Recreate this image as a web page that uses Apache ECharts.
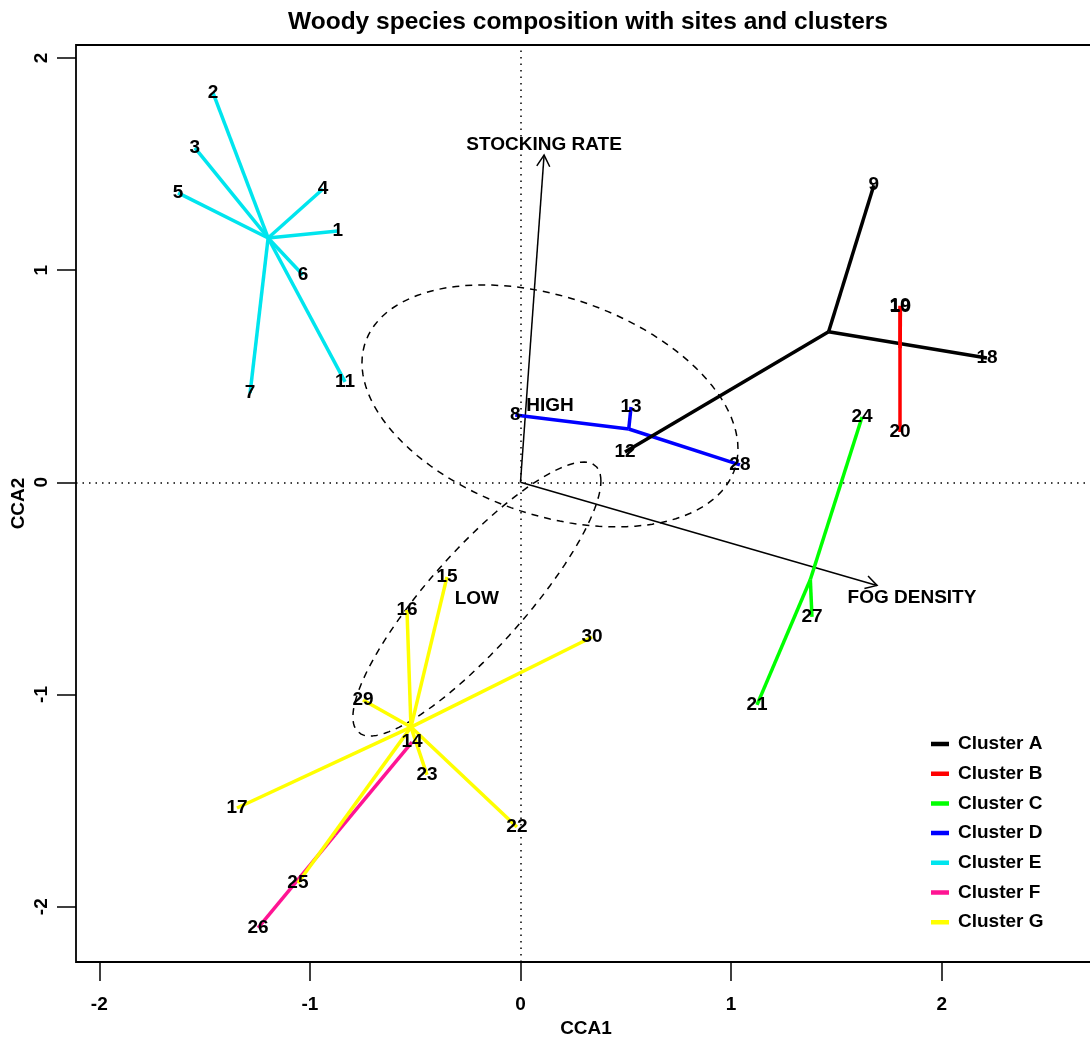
<!DOCTYPE html>
<html>
<head>
<meta charset="utf-8">
<script src="https://cdn.jsdelivr.net/npm/echarts@6/dist/echarts.min.js"></script>
<style>
  html, body { margin: 0; padding: 0; background: #fff; }
  #chart { width: 1090px; height: 1039px; }
</style>
</head>
<body>
<div id="chart"></div>
<script>
// site scores (CCA1, CCA2) and cluster of each site
var siteIds = [1, 2, 3, 4, 5, 6, 7, 8, 9, 10, 11, 12, 13, 14, 15, 16, 17, 18, 19, 20, 21, 22, 23, 24, 25, 26, 27, 28, 29, 30];
var siteX = [-0.867, -1.460, -1.546, -0.938, -1.626, -1.033, -1.284, -0.025, 1.678, 1.802,
  -0.833, 0.496, 0.525, -0.515, -0.349, -0.539, -1.346, 2.215, 1.804, 1.802,
  1.123, -0.017, -0.444, 1.622, -1.057, -1.246, 1.384, 1.042, -0.748, 0.340];
var siteY = [1.184, 1.835, 1.576, 1.382, 1.364, 0.977, 0.421, 0.317, 1.400, 0.832,
  0.473, 0.143, 0.355, -1.224, -0.446, -0.602, -1.535, 0.586, 0.828, 0.237,
  -1.049, -1.624, -1.379, 0.308, -1.888, -2.100, -0.634, 0.082, -1.026, -0.729];
var siteCluster = ['E', 'E', 'E', 'E', 'E', 'E', 'E', 'D', 'A', 'B',
  'E', 'A', 'D', 'F', 'G', 'G', 'G', 'A', 'B', 'B',
  'C', 'G', 'G', 'C', 'G', 'F', 'C', 'D', 'G', 'G'];

var clusterKeys = ['A', 'B', 'C', 'D', 'E', 'F', 'G'];
var clusterNames = ['Cluster A', 'Cluster B', 'Cluster C', 'Cluster D', 'Cluster E', 'Cluster F', 'Cluster G'];
var clusterColors = ['#000000', '#ff0000', '#00ff00', '#0000ff', '#00e5ee', '#ff1493', '#ffff00'];
// drawing order of the spiders (later = on top)
var drawOrder = ['F', 'G', 'C', 'D', 'E', 'A', 'B'];

// environmental vectors
var envNames = ['STOCKING RATE', 'FOG DENSITY'];
var envX = [0.112, 1.693];
var envY = [1.542, -0.486];
var envLabelX = [0.112, 1.859];
var envLabelY = [1.590, -0.545];

// factor centroids and their dispersion ellipses (covariance in CCA units)
var factorNames = ['HIGH', 'LOW'];
var factorX = [0.140, -0.207];
var factorY = [0.360, -0.550];
var ellSxx = [0.797, 0.3467];
var ellSxy = [-0.1809, 0.3274];
var ellSyy = [0.3251, 0.4168];

var tickValues = [-2, -1, 0, 1, 2];

var FONT = '"Liberation Sans", Arial, Helvetica, sans-serif';

function ellipsePoints(i) {
  var a = Math.sqrt(ellSxx[i]);
  var b = ellSxy[i] / a;
  var c = Math.sqrt(ellSyy[i] - b * b);
  var pts = [];
  for (var k = 0; k <= 120; k++) {
    var t = k / 120 * 2 * Math.PI;
    var u = Math.cos(t), v = Math.sin(t);
    pts.push([factorX[i] + a * u, factorY[i] + b * u + c * v]);
  }
  return pts;
}

var series = [];

// ellipses
factorNames.forEach(function (f, i) {
  series.push({
    name: 'ellipse ' + f,
    type: 'line',
    data: ellipsePoints(i),
    showSymbol: false,
    smooth: false,
    silent: true,
    lineStyle: { color: '#000', width: 1.5, type: [7, 6] },
    z: 2,
    markLine: i === 0 ? {
      silent: true,
      symbol: 'none',
      label: { show: false },
      lineStyle: { color: '#000', width: 1.5, type: [1.5, 5] },
      data: [{ xAxis: 0 }, { yAxis: 0 }]
    } : undefined
  });
});

// env arrows
series.push({
  name: 'env',
  type: 'custom',
  silent: true,
  z: 3,
  renderItem: function (params, api) {
    var p0 = api.coord([0, 0]);
    var p1 = api.coord([api.value(0), api.value(1)]);
    var ang = Math.atan2(p1[1] - p0[1], p1[0] - p0[0]);
    var L = 13, a = Math.PI / 6;
    var h1 = [p1[0] - L * Math.cos(ang - a), p1[1] - L * Math.sin(ang - a)];
    var h2 = [p1[0] - L * Math.cos(ang + a), p1[1] - L * Math.sin(ang + a)];
    return {
      type: 'group',
      children: [
        { type: 'line', shape: { x1: p0[0], y1: p0[1], x2: p1[0], y2: p1[1] }, style: { stroke: '#000', lineWidth: 1.5 } },
        { type: 'polyline', shape: { points: [h1, p1, h2] }, style: { stroke: '#000', fill: null, lineWidth: 1.5 } }
      ]
    };
  },
  data: envX.map(function (x, i) { return [x, envY[i]]; })
});

// spiders
drawOrder.forEach(function (key) {
  var ci = clusterKeys.indexOf(key);
  var members = [];
  siteIds.forEach(function (id, i) { if (siteCluster[i] === key) members.push(i); });
  var cx = 0, cy = 0;
  members.forEach(function (i) { cx += siteX[i]; cy += siteY[i]; });
  cx /= members.length; cy /= members.length;
  series.push({
    name: clusterNames[ci],
    type: 'lines',
    coordinateSystem: 'cartesian2d',
    color: clusterColors[ci],
    silent: true,
    z: 4,
    lineStyle: { color: clusterColors[ci], width: 3.5, opacity: 1, curveness: 0 },
    data: members.map(function (i) { return { coords: [[cx, cy], [siteX[i], siteY[i]]] }; })
  });
});

var textLabel = {
  show: true,
  position: 'inside',
  color: '#000',
  fontFamily: FONT,
  fontWeight: 'bold',
  fontSize: 19,
  textBorderWidth: 0
};

// site labels
series.push({
  name: 'sites',
  type: 'scatter',
  silent: true,
  symbolSize: 0,
  itemStyle: { color: '#000', opacity: 1 },
  z: 6,
  label: Object.assign({}, textLabel, { formatter: function (p) { return p.value[2]; } }),
  data: siteIds.map(function (id, i) { return [siteX[i], siteY[i], String(id)]; })
});

// env + factor labels
series.push({
  name: 'labels',
  type: 'scatter',
  silent: true,
  symbolSize: 0,
  itemStyle: { color: '#000', opacity: 1 },
  z: 6,
  label: Object.assign({}, textLabel, { formatter: function (p) { return p.value[2]; } }),
  data: envNames.map(function (n, i) { return [envLabelX[i], envLabelY[i], n]; })
    .concat(factorNames.map(function (n, i) { return [factorX[i], factorY[i], n]; }))
});

var axisFont = { fontFamily: FONT, fontWeight: 'bold', fontSize: 19, color: '#000' };

var option = {
  animation: false,
  backgroundColor: '#fff',
  title: {
    text: 'Woody species composition with sites and clusters',
    left: 583,
    top: 5,
    textAlign: 'center',
    textStyle: { fontFamily: FONT, fontWeight: 'bold', fontSize: 24.5, color: '#000' }
  },
  legend: {
    orient: 'vertical',
    left: 931,
    top: 734,
    padding: 0,
    itemWidth: 16,
    itemHeight: 2.5,
    itemGap: 9.7,
    icon: 'rect',
    selectedMode: false,
    textStyle: { fontFamily: FONT, fontWeight: 'bold', fontSize: 19, color: '#000', lineHeight: 20, padding: [0, 0, 0, 5] },
    data: clusterNames.map(function (n, i) { return { name: n, itemStyle: { color: clusterColors[i] } }; })
  },
  grid: {
    left: 76,
    top: 45,
    right: -6,
    bottom: 77,
    outerBoundsMode: 'none',
    containLabel: false,
    show: true,
    borderColor: '#000',
    borderWidth: 1.8,
    backgroundColor: 'transparent'
  },
  xAxis: {
    type: 'value',
    min: -2.1106,
    max: 2.7327,
    name: 'CCA1',
    nameLocation: 'middle',
    nameGap: 57,
    nameMoveOverlap: false,
    nameTextStyle: axisFont,
    axisLine: { show: false, onZero: false },
    splitLine: { show: false },
    axisTick: { show: true, inside: false, length: 19, customValues: tickValues, lineStyle: { color: '#000', width: 1.5 } },
    axisLabel: Object.assign({ customValues: tickValues, margin: 33 }, axisFont)
  },
  yAxis: {
    type: 'value',
    min: -2.2606,
    max: 2.0608,
    name: 'CCA2',
    nameLocation: 'middle',
    nameRotate: 90,
    nameGap: 48,
    nameMoveOverlap: false,
    nameTextStyle: axisFont,
    axisLine: { show: false, onZero: false },
    splitLine: { show: false },
    axisTick: { show: true, inside: false, length: 19, customValues: tickValues, lineStyle: { color: '#000', width: 1.5 } },
    axisLabel: Object.assign({ customValues: tickValues, rotate: 90, margin: 25 }, axisFont)
  },
  series: series
};

var chart = echarts.init(document.getElementById('chart'));
chart.setOption(option);
</script>
</body>
</html>
